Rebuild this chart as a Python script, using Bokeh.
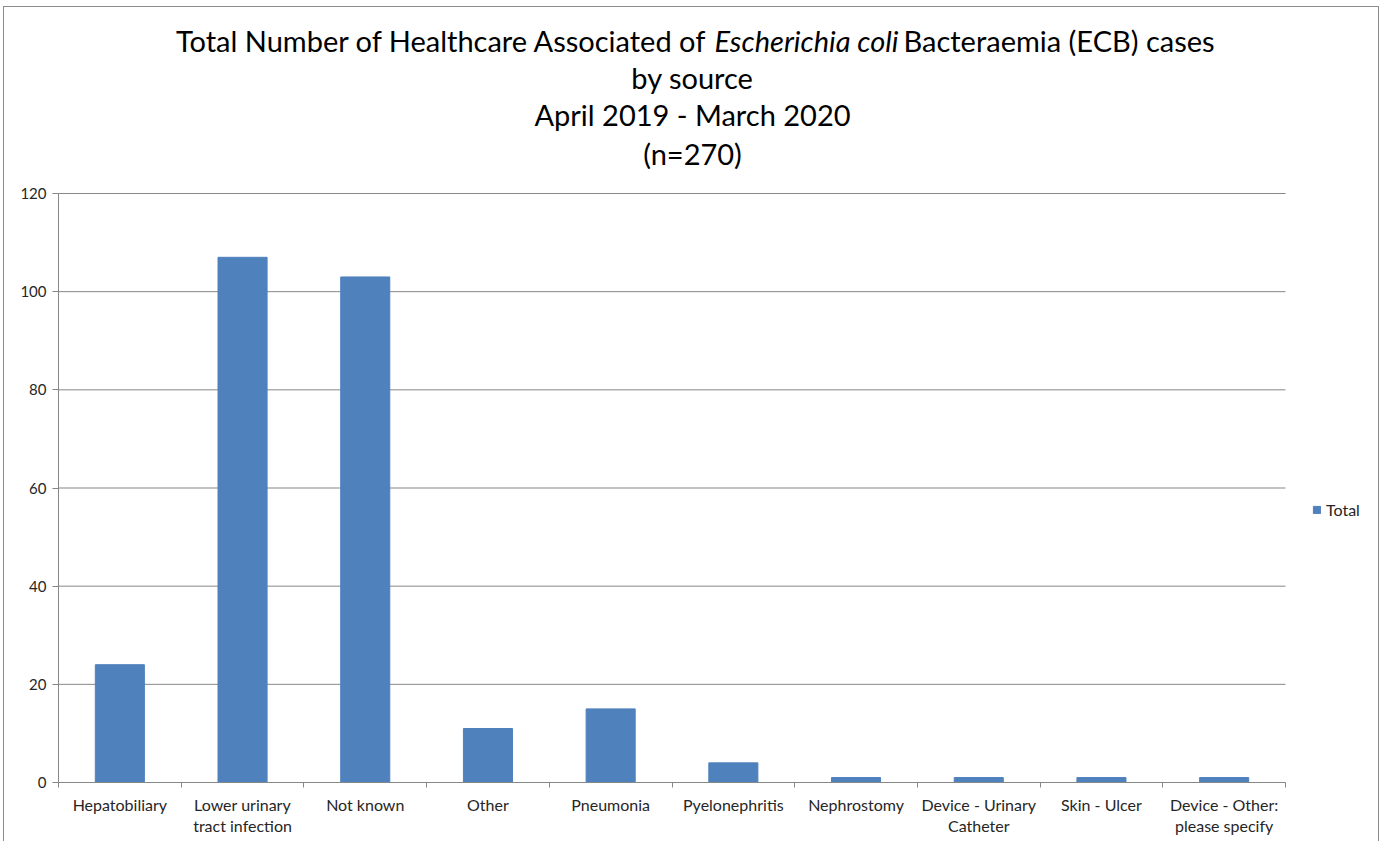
from bokeh.plotting import figure
from bokeh.models import (Range1d, Label, LinearAxis, FixedTicker, ColumnDataSource, Grid)
from bokeh.embed import file_html
from bokeh.resources import INLINE

# ---- data ----
categories = ["Hepatobiliary", "Lower urinary\ntract infection", "Not known", "Other",
              "Pneumonia", "Pyelonephritis", "Nephrostomy", "Device - Urinary\nCatheter",
              "Skin - Ulcer", "Device - Other:\nplease specify"]
totals = [24, 107, 103, 11, 15, 4, 1, 1, 1, 1]
y_ticks = [0, 20, 40, 60, 80, 100, 120]
series_name = "Total"
title_part1 = "Total Number of Healthcare Associated of"
title_italic = "Escherichia coli"
title_part3 = "Bacteraemia (ECB) cases"
title_lines = ["by source", "April 2019 - March 2020", "(n=270)"]

FONT = "Lato"
BAR = "#4F81BD"
GRAY = "#878787"
TXT = "#262626"

# page geometry (pixels): canvas starts at (4, 7) inside a 1px border
W, H = 1376, 836
CW, CH = W, H
CX0, CY0 = 4, 7
PL, PR, PT, PB = 58, 1285, 193, 782      # plotted area of the axes
FL = PL - CX0                           # frame left border
FB = (CY0 + CH) - PB                    # frame bottom border

n = len(categories)
ymax = y_ticks[-1]
px_x = (PR - PL) / n
px_y = (PB - PT) / ymax
x_end = (CX0 + CW - PL) / px_x
y_end = (PB - CY0) / px_y

centers = [i + 0.5 for i in range(n)]
src = ColumnDataSource(dict(x=centers, cat=categories, total=totals))

p = figure(width=W, height=H, x_range=Range1d(0, x_end), y_range=Range1d(0, y_end),
           output_backend="svg", toolbar_location=None,
           x_axis_location=None, y_axis_location=None,
           min_border_left=FL, min_border_top=0, min_border_right=0, min_border_bottom=FB)
for r in list(p.center):
    if isinstance(r, Grid):
        r.visible = False
p.outline_line_color = None
p.background_fill_color = "white"
p.border_fill_color = "white"
p.styles = {"border": "1px solid #8c8c8c"}
p.margin = (6, 0, 0, 3)

# y axis
yax = LinearAxis(ticker=FixedTicker(ticks=y_ticks), bounds=(0, ymax))
yax.axis_line_color = GRAY
yax.major_tick_line_color = GRAY
yax.major_tick_out = 6
yax.major_tick_in = 0
yax.minor_tick_out = 0
yax.minor_tick_in = 0
yax.major_label_standoff = 6
yax.major_label_text_font = FONT
yax.major_label_text_font_size = "15px"
yax.major_label_text_color = TXT
p.add_layout(yax, "left")

# x axis: labels at category centres, tick marks at category boundaries
xax = LinearAxis(ticker=FixedTicker(ticks=centers, minor_ticks=list(range(n + 1))),
                 bounds=(0, n))
xax.major_label_overrides = {c: lab for c, lab in zip(centers, categories)}
xax.axis_line_color = GRAY
xax.major_tick_line_color = None
xax.major_tick_out = 0
xax.major_tick_in = 0
xax.minor_tick_line_color = GRAY
xax.minor_tick_out = 5
xax.minor_tick_in = 0
xax.major_label_standoff = 7
xax.major_label_text_font = FONT
xax.major_label_text_font_size = "16px"
xax.major_label_text_line_height = 1.15
xax.major_label_text_color = TXT
p.add_layout(xax, "below")

# horizontal gridlines across the category span
p.segment(x0=[0] * len(y_ticks), x1=[n] * len(y_ticks), y0=y_ticks, y1=y_ticks,
          line_color=GRAY, line_width=1)

p.vbar(x="x", top="total", width=0.4, source=src, fill_color=BAR, line_color=BAR,
       legend_label=series_name)

lg = p.legend[0]
lg.location = (1254, 263)
lg.border_line_color = None
lg.background_fill_alpha = 0
lg.padding = 0
lg.margin = 0
lg.glyph_width = 9
lg.glyph_height = 9
lg.label_standoff = 5
lg.label_text_font = FONT
lg.label_text_font_size = "16px"
lg.label_text_color = TXT

# title
def xd(px):
    return (px - PL) / px_x
def yd(py):
    return (PB - py) / px_y

TS = "29px"
p.add_layout(Label(x=xd(707), y=yd(40), text=title_part1, text_align="right",
                   text_baseline="middle", text_font=FONT, text_font_size=TS, text_color="black"))
p.add_layout(Label(x=xd(714), y=yd(40), text=title_italic, text_align="left",
                   text_baseline="middle", text_font=FONT, text_font_size=TS,
                   text_font_style="italic", text_color="black"))
p.add_layout(Label(x=xd(903), y=yd(40), text=title_part3, text_align="left",
                   text_baseline="middle", text_font=FONT, text_font_size=TS, text_color="black"))
for line, py in zip(title_lines, [77, 114, 153]):
    p.add_layout(Label(x=xd(692), y=yd(py), text=line, text_align="center",
                       text_baseline="middle", text_font=FONT, text_font_size=TS,
                       text_color="black"))

open("out.html", "w").write(file_html(p, INLINE))
